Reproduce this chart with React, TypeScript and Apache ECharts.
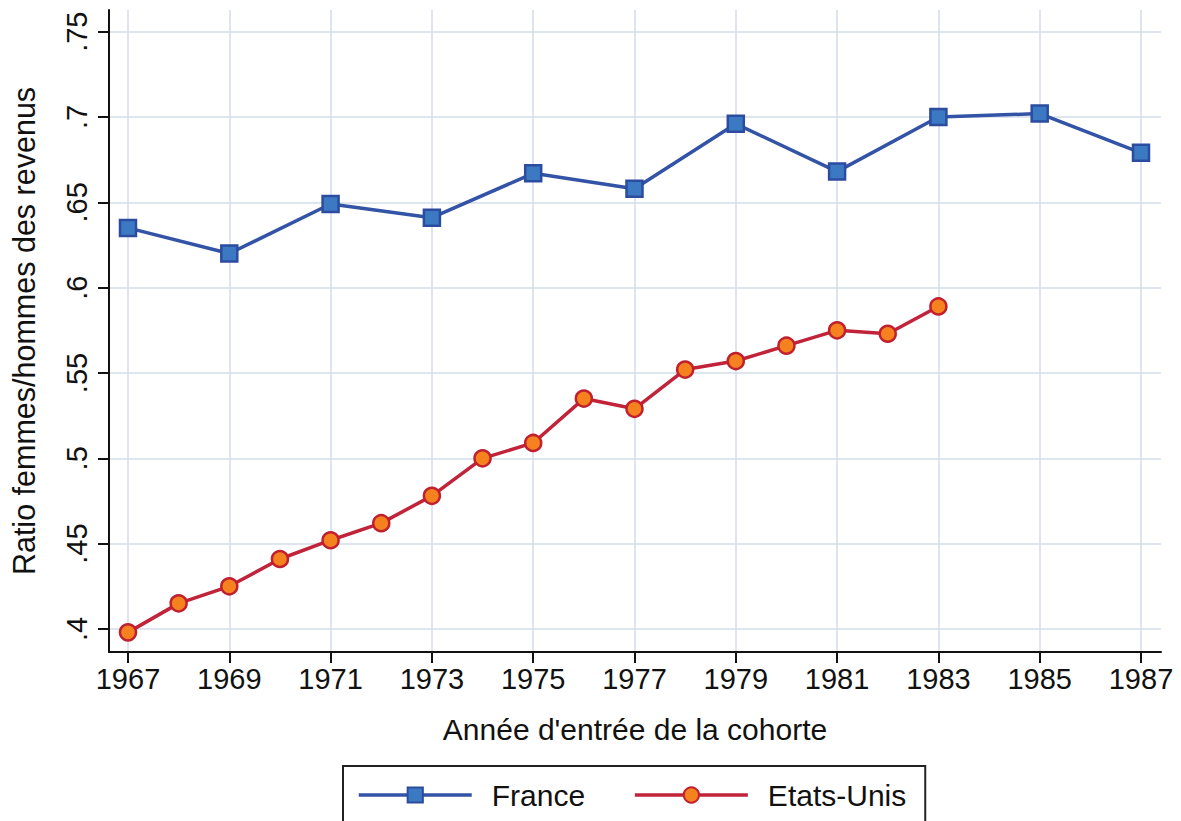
import React, { useEffect, useRef } from "react";
import * as echarts from "echarts";

const franceYears = [1967, 1969, 1971, 1973, 1975, 1977, 1979, 1981, 1983, 1985, 1987];
const franceValues = [0.635, 0.62, 0.649, 0.641, 0.667, 0.658, 0.696, 0.668, 0.7, 0.702, 0.679];

const usYears = [1967, 1968, 1969, 1970, 1971, 1972, 1973, 1974, 1975, 1976, 1977, 1978, 1979, 1980, 1981, 1982, 1983];
const usValues = [0.398, 0.415, 0.425, 0.441, 0.452, 0.462, 0.478, 0.5, 0.509, 0.535, 0.529, 0.552, 0.557, 0.566, 0.575, 0.573, 0.589];

const xTicks = [1967, 1969, 1971, 1973, 1975, 1977, 1979, 1981, 1983, 1985, 1987];
const yTicks = [0.4, 0.45, 0.5, 0.55, 0.6, 0.65, 0.7, 0.75];

const FONT = "'Liberation Sans', Arial, Helvetica, sans-serif";

export default function App() {
  const ref = useRef<HTMLDivElement>(null);
  useEffect(() => {
    document.body.style.margin = "0";
    const chart = echarts.init(ref.current!, null, { renderer: "svg" });
    chart.setOption({
      animation: false,
      backgroundColor: "#ffffff",
      textStyle: { fontFamily: FONT },
      grid: { left: 109, right: 20, top: 10, bottom: 169, containLabel: false },
      xAxis: {
        type: "value",
        min: 1966.625,
        max: 1987.395,
        name: "Année d'entrée de la cohorte",
        nameLocation: "middle",
        nameGap: 62,
        nameTextStyle: { fontSize: 30, color: "#111", fontFamily: FONT },
        axisLine: { show: true, onZero: false, lineStyle: { color: "#111", width: 2 } },
        axisTick: { show: true, length: 11, lineStyle: { color: "#111", width: 2 }, customValues: xTicks },
        axisLabel: {
          customValues: xTicks,
          fontSize: 29,
          color: "#111",
          margin: 12,
          fontFamily: FONT,
          formatter: (v: number) => String(v),
        },
        splitLine: { show: true, lineStyle: { color: "#d3dde9", width: 1.5 } },
      },
      yAxis: {
        type: "value",
        min: 0.3865,
        max: 0.7627,
        name: "Ratio femmes/hommes des revenus",
        nameLocation: "middle",
        nameRotate: 90,
        nameGap: 70,
        nameTextStyle: { fontSize: 30.5, color: "#111", fontFamily: FONT },
        axisLine: { show: true, onZero: false, lineStyle: { color: "#111", width: 2 } },
        axisTick: { show: true, length: 11, lineStyle: { color: "#111", width: 2 }, customValues: yTicks },
        axisLabel: {
          customValues: yTicks,
          rotate: 90,
          fontSize: 29,
          color: "#111",
          margin: 18,
          fontFamily: FONT,
          formatter: (v: number) => String(v).replace(/^0/, ""),
        },
        splitLine: { show: true, lineStyle: { color: "#d3dde9", width: 1.5 } },
      },
      legend: {
        left: 343,
        top: 766,
        orient: "horizontal",
        padding: [14, 19, 14, 14],
        borderColor: "#222",
        borderWidth: 2,
        itemWidth: 113,
        itemHeight: 19,
        itemGap: 48,
        lineStyle: { width: 3.5 },
        textStyle: { fontSize: 30, color: "#111", fontFamily: FONT, padding: [0, 0, 0, 15] },
        data: ["France", "Etats-Unis"],
      },
      series: [
        {
          name: "France",
          type: "line",
          data: franceYears.map((y, i) => [y, franceValues[i]]),
          symbol: "rect",
          symbolSize: 16,
          lineStyle: { color: "#3353a6", width: 3.5 },
          itemStyle: { color: "#3c79c3", borderColor: "#2c4c9f", borderWidth: 2.5 },
        },
        {
          name: "Etats-Unis",
          type: "line",
          data: usYears.map((y, i) => [y, usValues[i]]),
          symbol: "circle",
          symbolSize: 16,
          lineStyle: { color: "#c1233a", width: 3.5 },
          itemStyle: { color: "#f5821f", borderColor: "#c1202f", borderWidth: 2.5 },
        },
      ],
    });
    return () => chart.dispose();
  }, []);
  return <div ref={ref} style={{ width: 1181, height: 821, position: "fixed", left: 0, top: 0 }} />;
}
